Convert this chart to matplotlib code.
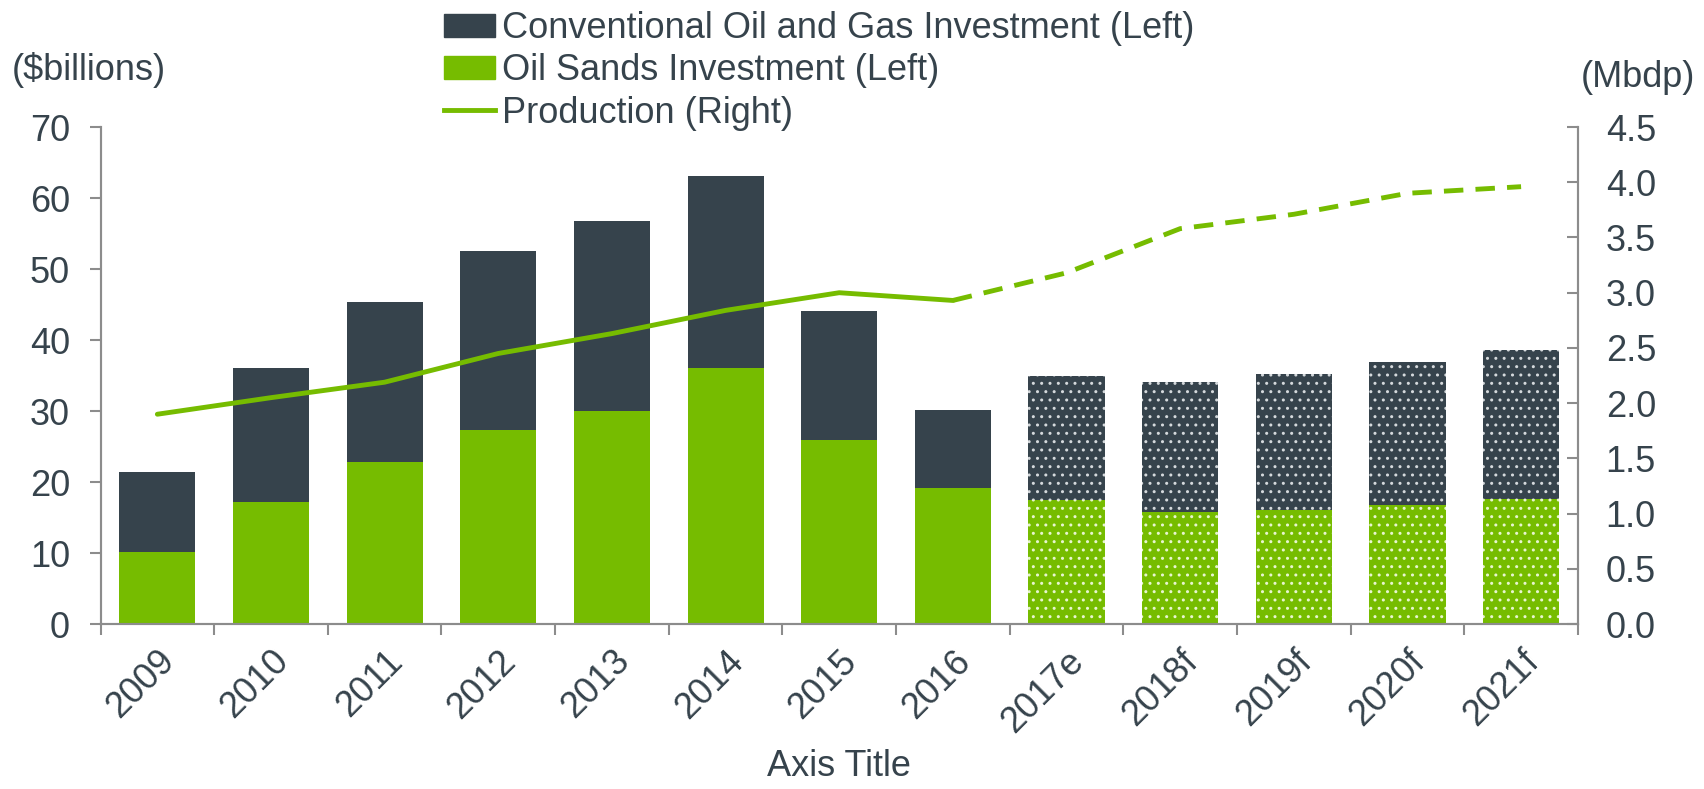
import matplotlib
matplotlib.use("Agg")
import matplotlib.pyplot as plt
import numpy as np
from matplotlib.patches import Patch
from matplotlib.lines import Line2D

years = ["2009", "2010", "2011", "2012", "2013", "2014", "2015", "2016",
         "2017e", "2018f", "2019f", "2020f", "2021f"]
oil_sands = [10.1, 17.2, 22.8, 27.4, 30.0, 36.1, 25.9, 19.1, 17.5, 15.8, 16.1, 16.8, 17.6]
total_inv = [21.4, 36.0, 45.3, 52.5, 56.7, 63.1, 44.1, 30.2, 34.9, 34.1, 35.2, 36.9, 38.6]
production = [1.90, 2.05, 2.19, 2.45, 2.63, 2.84, 3.00, 2.93, 3.18, 3.58, 3.71, 3.90, 3.96]
n_actual = 8  # 2009-2016 actual, rest estimates/forecasts

conventional = [t - s for t, s in zip(total_inv, oil_sands)]

DARK = "#36434C"
GREEN = "#76BC00"
GRAY = "#8C8C8C"
TXT = "#36434C"
FS = 26

plt.rcParams['font.family'] = ['Liberation Sans', 'DejaVu Sans']
plt.rcParams['hatch.linewidth'] = 1.0

fig = plt.figure(figsize=(17.04, 7.89), dpi=100)
ax = fig.add_axes([0.059, 0.209, 0.867, 0.630])
ax2 = ax.twinx()

x = np.arange(len(years))
w = 0.67
for i in range(len(years)):
    hatch = None if i < n_actual else '..'
    ax.bar(x[i], oil_sands[i], w, color=GREEN, edgecolor='#E8F5D0' if hatch else GREEN,
           linewidth=0, hatch=hatch, zorder=2)
    ax.bar(x[i], conventional[i], w, bottom=oil_sands[i], color=DARK,
           edgecolor='#D5D9DC' if hatch else DARK, linewidth=0, hatch=hatch, zorder=2)

ax2.plot(x[:n_actual], production[:n_actual], color=GREEN, lw=3.5, solid_capstyle='round')
ax2.plot(x[n_actual - 1:], production[n_actual - 1:], color=GREEN, lw=3.5,
         dashes=(4, 2.5))

ax.set_xlim(-0.5, len(years) - 0.5)
ax.set_ylim(0, 70)
ax.set_yticks(np.arange(0, 71, 10))
ax2.set_ylim(0, 4.5)
ax2.set_yticks(np.arange(0, 4.51, 0.5))
ax2.set_yticklabels([f"{v:.1f}" for v in np.arange(0, 4.51, 0.5)])

ax.set_xticks(x)
ax.set_xticklabels(years, rotation=45, ha='right', rotation_mode='anchor')
ax.set_xticks(np.arange(-0.5, len(years), 1), minor=True)
ax.tick_params(axis='x', which='major', length=0, labelsize=FS, colors=TXT, pad=14)
ax.tick_params(axis='x', which='minor', length=8, width=1.5, color=GRAY, direction='out')
ax.tick_params(axis='y', length=8, width=1.5, color=GRAY, labelsize=FS, labelcolor=TXT,
               direction='out', pad=14)
ax2.tick_params(axis='y', length=8, width=1.5, color=GRAY, labelsize=FS, labelcolor=TXT,
                direction='in', pad=20)

for a in (ax, ax2):
    a.spines['top'].set_visible(False)
    for s in ('left', 'right', 'bottom'):
        a.spines[s].set_color(GRAY)
        a.spines[s].set_linewidth(1.5)

ax.set_xlabel("Axis Title", fontsize=FS, color=TXT, labelpad=7)

fig.text(0.007, 0.911, "($billions)", fontsize=FS, color=TXT, va='center', ha='left')
fig.text(0.995, 0.902, "(Mbdp)", fontsize=FS, color=TXT, va='center', ha='right')

handles = [Patch(facecolor=DARK, edgecolor=DARK),
           Patch(facecolor=GREEN, edgecolor=GREEN),
           Line2D([0], [0], color=GREEN, lw=3.5)]
labels = ["Conventional Oil and Gas Investment (Left)", "Oil Sands Investment (Left)",
          "Production (Right)"]
leg = fig.legend(handles, labels, loc='upper left', bbox_to_anchor=(0.246, 1.018),
                 frameon=False, handlelength=1.4, handleheight=0.6,
                 handletextpad=0.2, labelspacing=0.2, borderaxespad=0.3,
                 prop={'family': ['Liberation Sans Narrow', 'Liberation Sans'], 'size': 26})
for t in leg.get_texts():
    t.set_color(TXT)

fig.savefig("out.png", dpi=100)
